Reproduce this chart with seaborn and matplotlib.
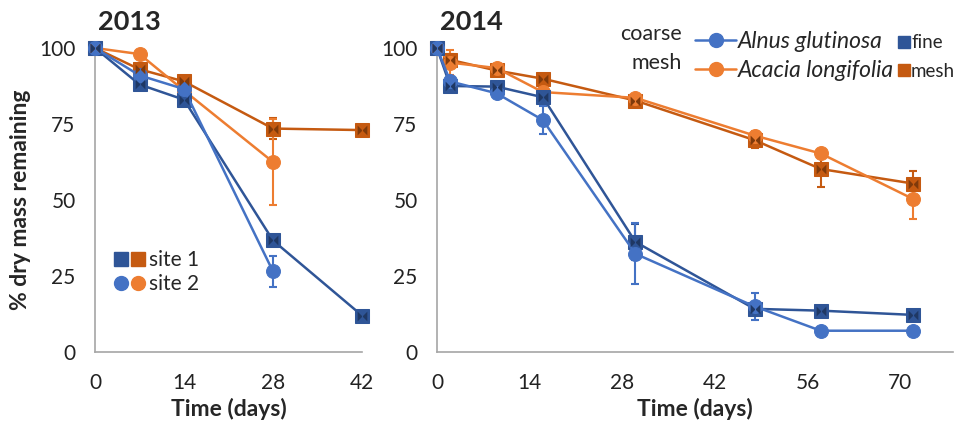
import numpy as np
import pandas as pd
import matplotlib
matplotlib.use("Agg")
import matplotlib.pyplot as plt
import seaborn as sns
from matplotlib.lines import Line2D
from matplotlib.legend_handler import HandlerTuple

# === Data ===
days_2013 = [0, 7, 14, 28, 42]
days_2013_site2 = [0, 7, 14, 28]
alnus_site1_2013 = [100, 88, 83, 36.7, 12]
alnus_site1_2013_err = [0, 1, 2, 1, 0.5]
acacia_site1_2013 = [100, 93, 89, 73.5, 73]
acacia_site1_2013_err = [0, 1, 1, 3.5, 0.5]
alnus_site2_2013 = [100, 91, 86.5, 26.5]
alnus_site2_2013_err = [0, 1, 1, 5]
acacia_site2_2013 = [100, 98, 86, 62.5]
acacia_site2_2013_err = [0, 1, 1, 14]

days_2014 = [0, 2, 9, 16, 30, 48, 58, 72]
alnus_coarse_2014 = [100, 89, 85.1, 76.3, 32.3, 15, 7, 7]
alnus_coarse_2014_err = [0, 1, 1, 4.5, 10, 4.5, 0.5, 0.5]
alnus_fine_2014 = [100, 87.5, 87.3, 83.8, 36.2, 14.2, 13.6, 12.2]
alnus_fine_2014_err = [0, 1, 1, 1, 6, 1, 0.5, 0.5]
acacia_coarse_2014 = [100, 95.2, 93.4, 85.5, 83.6, 71.2, 65.3, 50.3]
acacia_coarse_2014_err = [0, 4, 1.5, 1, 1, 1.5, 1, 6.5]
acacia_fine_2014 = [100, 96.1, 92.6, 89.9, 82.7, 69.7, 60.2, 55.4]
acacia_fine_2014_err = [0, 2, 1, 1, 1, 2.5, 6, 4]

# === Style ===
BLUE_C = "#4472C4"
BLUE_F = "#2F5597"
BLUE_DARK = "#1F3864"
ORANGE_C = "#ED7D31"
ORANGE_F = "#C55A11"
ORANGE_DARK = "#7F3A0B"
AXIS_GREY = "#A6A6A6"
BOWTIE = [(-1, -1), (1, 1), (1, -1), (-1, 1)]

sns.set_style("white")
plt.rcParams["font.family"] = ["Lato", "DejaVu Sans"]


def plot_series(ax, x, y, err, color, marker, dark=None):
    df = pd.DataFrame({"day": x, "mass": y})
    ax.errorbar(x, y, yerr=err, fmt="none", ecolor=color, elinewidth=1.5,
                capsize=3, capthick=1.5, clip_on=False, zorder=2)
    sns.lineplot(data=df, x="day", y="mass", ax=ax, color=color, marker=marker,
                 markersize=10, markeredgecolor=color, linewidth=1.8,
                 estimator=None, sort=False, clip_on=False, zorder=3)
    if dark is not None:
        ax.plot(x, y, ls="none", marker=BOWTIE, ms=7, color=dark,
                mew=0, clip_on=False, zorder=4)


def style_axis(ax, xmax, xticks):
    ax.set_xlim(0, xmax)
    ax.set_ylim(0, 100)
    ax.set_xticks(xticks)
    ax.set_yticks([0, 25, 50, 75, 100])
    for s in ["top", "right"]:
        ax.spines[s].set_visible(False)
    for s in ["left", "bottom"]:
        ax.spines[s].set_color(AXIS_GREY)
        ax.spines[s].set_linewidth(1.2)
    ax.tick_params(axis="both", direction="out", length=5, width=1.2,
                   color=AXIS_GREY, labelsize=15, labelcolor="#222222")
    ax.tick_params(axis="y", pad=9)
    ax.tick_params(axis="x", pad=10)
    ax.set_xlabel("Time (days)", fontsize=16.5, fontweight="bold", labelpad=4)
    ax.set_ylabel("")


fig = plt.figure(figsize=(9.6, 4.24), dpi=100)
ax1 = fig.add_axes([95 / 960, 1 - 352 / 424, 267 / 960, 304 / 424])
ax2 = fig.add_axes([437 / 960, 1 - 352 / 424, 516 / 960, 304 / 424])

# === 2013 ===
plot_series(ax1, days_2013, acacia_site1_2013, acacia_site1_2013_err, ORANGE_F, "s", ORANGE_DARK)
plot_series(ax1, days_2013_site2, acacia_site2_2013, acacia_site2_2013_err, ORANGE_C, "o")
plot_series(ax1, days_2013, alnus_site1_2013, alnus_site1_2013_err, BLUE_F, "s", BLUE_DARK)
plot_series(ax1, days_2013_site2, alnus_site2_2013, alnus_site2_2013_err, BLUE_C, "o")
style_axis(ax1, 42, [0, 14, 28, 42])
ax1.set_ylabel("% dry mass remaining", fontsize=16.5, fontweight="bold", labelpad=6)
ax1.text(0.01, 1.06, "2013", transform=ax1.transAxes, fontsize=19.5,
         fontweight="bold", va="baseline", ha="left")

sq_b = Line2D([], [], ls="none", marker="s", ms=10, color=BLUE_F)
sq_o = Line2D([], [], ls="none", marker="s", ms=10, color=ORANGE_F)
ci_b = Line2D([], [], ls="none", marker="o", ms=10, color=BLUE_C)
ci_o = Line2D([], [], ls="none", marker="o", ms=10, color=ORANGE_C)
ax1.legend([(sq_b, sq_o), (ci_b, ci_o)], ["site 1", "site 2"],
           handler_map={tuple: HandlerTuple(ndivide=None, pad=0.05)},
           loc="upper left", bbox_to_anchor=(0.027, 0.37), frameon=False,
           fontsize=15, handlelength=1.6, handletextpad=0.15,
           labelspacing=0.2, borderpad=0)

# === 2014 ===
plot_series(ax2, days_2014, acacia_fine_2014, acacia_fine_2014_err, ORANGE_F, "s", ORANGE_DARK)
plot_series(ax2, days_2014, acacia_coarse_2014, acacia_coarse_2014_err, ORANGE_C, "o")
plot_series(ax2, days_2014, alnus_fine_2014, alnus_fine_2014_err, BLUE_F, "s", BLUE_DARK)
plot_series(ax2, days_2014, alnus_coarse_2014, alnus_coarse_2014_err, BLUE_C, "o")
style_axis(ax2, 78, [0, 14, 28, 42, 56, 70])
ax2.text(0.005, 1.06, "2014", transform=ax2.transAxes, fontsize=19.5,
         fontweight="bold", va="baseline", ha="left")

species = [Line2D([], [], color=BLUE_C, marker="o", ms=10, lw=1.8),
           Line2D([], [], color=ORANGE_C, marker="o", ms=10, lw=1.8)]
leg1 = ax2.legend(species, ["Alnus glutinosa", "Acacia longifolia"],
                  loc="upper left", bbox_to_anchor=(684 / 960, 1 - 20 / 424),
                  bbox_transform=fig.transFigure, frameon=False,
                  prop={"style": "italic", "size": 16.5}, handlelength=1.75,
                  handletextpad=0.1, labelspacing=0.32, borderpad=0)
ax2.add_artist(leg1)
mesh = [Line2D([], [], ls="none", marker="s", ms=9, color=BLUE_F),
        Line2D([], [], ls="none", marker="s", ms=9, color=ORANGE_F)]
ax2.legend(mesh, ["fine", "mesh"], loc="upper left",
           bbox_to_anchor=(889 / 960, 1 - 25 / 424),
           bbox_transform=fig.transFigure, frameon=False, fontsize=13.5,
           handlelength=0.6, handletextpad=0.08, labelspacing=0.6, borderpad=0)
fig.text(682 / 960, 1 - 34 / 424, "coarse", ha="right", va="center", fontsize=15.5)
fig.text(682 / 960, 1 - 63 / 424, "mesh", ha="right", va="center", fontsize=15.5)

fig.savefig("out.png", dpi=100)
